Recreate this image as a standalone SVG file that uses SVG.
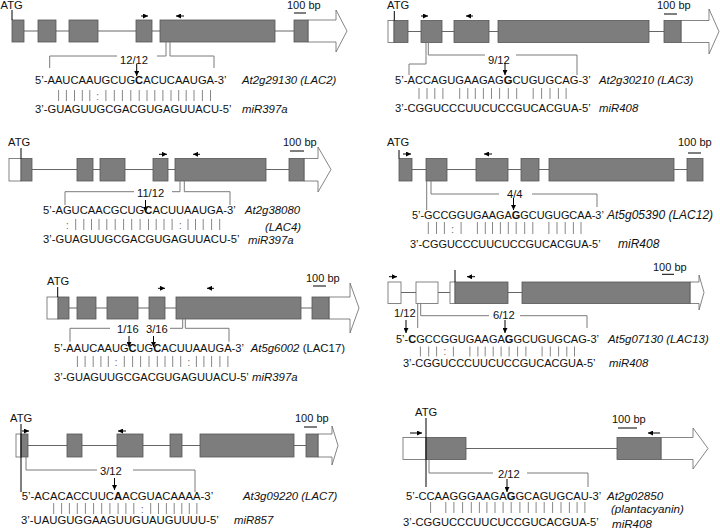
<svg xmlns="http://www.w3.org/2000/svg" width="720" height="532" viewBox="0 0 720 532">
<defs>
<marker id="ah" viewBox="0 0 10 10" refX="10" refY="5" markerWidth="5" markerHeight="5" markerUnits="userSpaceOnUse" orient="auto"><path d="M0,0 L10,5 L0,10 z" fill="#000"/></marker>
<style>
text{font-family:"Liberation Sans",Arial,sans-serif;fill:#111}
.t{font-size:11.2px}
.it{font-size:11.4px;font-style:italic}
.sb{font-size:11px}
.ex{fill:#7d7d7d;stroke:#555;stroke-width:0.8}
.wb{fill:#fff;stroke:#666;stroke-width:0.8}
.in{stroke:#666;stroke-width:1;fill:none}
.br{stroke:#7a7a7a;stroke-width:1;fill:none}
.bars{stroke:#888;stroke-width:1;fill:none}
.ar{stroke:#000;stroke-width:1;fill:none;marker-end:url(#ah)}
.bk{stroke:#000;stroke-width:1;fill:none}
.col{fill:#777}
</style>
</defs>

<!-- Panel 1 -->
<g id="p1">
<path class="in" d="M12,31H308"/>
<path class="wb" d="M308,20H336V10L347,31L336,52V42H308Z"/>
<rect class="ex" x="12" y="20" width="12" height="22"/>
<rect class="ex" x="38" y="20" width="18" height="22"/>
<rect class="ex" x="69" y="20" width="29" height="22"/>
<rect class="ex" x="136" y="20" width="16" height="22"/>
<rect class="ex" x="160" y="20" width="115" height="22"/>
<rect class="ex" x="294" y="20" width="14" height="22"/>
<text class="t" x="0.5" y="9">ATG</text>
<path class="bk" d="M12,10V20"/>
<text class="sb" x="287" y="9">100 bp</text>
<path class="bk" d="M294,13H306" stroke-width="1.5"/>
<path class="ar" d="M141,16H148"/>
<path class="ar" d="M184,16H176"/>
<path class="br" d="M49.7,68V56H117M157,56H166V42M170,42V56H214V68"/>
<text class="t" x="120" y="64">12/12</text>
<path class="ar" d="M136.7,64V76"/>
<text class="t" x="35" y="84">5’-AAUCAAUGCUG<tspan font-weight="bold">C</tspan>ACUCAAUGA-3’</text>
<path class="bars" d="M58.6,90v11M66.4,90v11M74.5,90v11M82.3,90v11M89.8,90v11M105.9,90v11M114.3,90v11M122.4,90v11M130.8,90v11M139.2,90v11M147,90v11M154.8,90v11M162.9,90v11M171,90v11M178.7,90v11M186.2,90v11M194,90v11M202.4,90v11M210.5,90v11"/>
<text class="t col" x="97.5" y="100" text-anchor="middle">:</text>
<text class="t" x="35" y="113">3’-GUAGUUGCGACGUGAGUUACU-5’</text>
<text class="it" x="242" y="84">At2g29130 (LAC2)</text>
<text class="it" x="242" y="113">miR397a</text>
</g>

<!-- Panel 2 -->
<g id="p2">
<path class="in" d="M394,31.5H709"/>
<rect class="wb" x="388" y="20.5" width="6" height="22"/>
<path class="wb" d="M681,20.5H709V9L719,31.5L709,54V42.5H681Z"/>
<rect class="ex" x="394" y="20.5" width="14" height="22"/>
<rect class="ex" x="421" y="20.5" width="21" height="22"/>
<rect class="ex" x="454" y="20.5" width="35" height="22"/>
<rect class="ex" x="498" y="20.5" width="151" height="22"/>
<rect class="ex" x="664" y="20.5" width="17" height="22"/>
<text class="t" x="387" y="9">ATG</text>
<path class="bk" d="M394.3,11V20.5"/>
<text class="sb" x="657" y="9">100 bp</text>
<path class="bk" d="M664,14H677" stroke-width="1.5"/>
<path class="ar" d="M421,16H428"/>
<path class="ar" d="M473,16H466"/>
<path class="br" d="M409,75V64H426V42.5M428.3,42.5V55H485M516,55H577V75"/>
<text class="t" x="488" y="64">9/12</text>
<path class="ar" d="M505,63V75"/>
<text class="t" x="395" y="84">5’-ACCAGUGAAGAG<tspan font-weight="bold">G</tspan>CUGUGCAG-3’</text>
<path class="bars" d="M419,88v11M427,88v11M434.8,88v11M442.9,88v11M459.7,88v11M467.8,88v11M475.3,88v11M483.4,88v11M491.5,88v11M499.6,88v11M508.3,88v11M516.7,88v11M533.2,88v11M541.6,88v11M550,88v11M558.4,88v11M566.1,88v11"/>
<text class="t" x="395" y="112">3’-CGGUCCCUUCUCCGUCACGUA-5’</text>
<text class="it" x="599" y="84">At2g30210 (LAC3)</text>
<text class="it" x="599" y="112">miR408</text>
</g>

<!-- Panel 3 -->
<g id="p3">
<path class="in" d="M21,169.5H318"/>
<rect class="wb" x="9" y="158.5" width="12" height="22.5"/>
<path class="wb" d="M304,158.5H318V147L331,169.5L318,192V181H304Z"/>
<rect class="ex" x="21" y="158.5" width="11" height="22.5"/>
<rect class="ex" x="77" y="158.5" width="16" height="22.5"/>
<rect class="ex" x="100" y="158.5" width="25" height="22.5"/>
<rect class="ex" x="153" y="158.5" width="15" height="22.5"/>
<rect class="ex" x="175" y="158.5" width="91" height="22.5"/>
<rect class="ex" x="289" y="158.5" width="15" height="22.5"/>
<text class="t" x="8" y="146">ATG</text>
<path class="bk" d="M21,148V158.5"/>
<text class="sb" x="283" y="146">100 bp</text>
<path class="bk" d="M290,151H304" stroke-width="1.5"/>
<path class="ar" d="M159,154.3H167"/>
<path class="ar" d="M200,154.3H193"/>
<path class="br" d="M65,205V191.7H134M172,191.7H180V181M184.3,181V191.7H230V205"/>
<text class="t" x="137" y="197">11/12</text>
<path class="ar" d="M145.5,200V212"/>
<text class="t" x="43" y="214">5’-AGUCAACGCUG<tspan font-weight="bold">C</tspan>ACUUAAUGA-3’</text>
<path class="bars" d="M75.7,219v11M83.8,219v11M91.5,219v11M99,219v11M106.8,219v11M115.2,219v11M123.6,219v11M131.7,219v11M140.1,219v11M148.5,219v11M156.2,219v11M164,219v11M172.1,219v11M188,219v11M195.5,219v11M203.2,219v11M211.6,219v11M219.7,219v11"/>
<text class="t col" x="67.3" y="229" text-anchor="middle">:</text>
<text class="t col" x="180.2" y="229" text-anchor="middle">:</text>
<text class="t" x="43" y="243">3’-GUAGUUGCGACGUGAGUUACU-5’</text>
<text class="it" x="245" y="214">At2g38080</text>
<text class="it" x="265" y="231">(LAC4)</text>
<text class="it" x="248" y="244">miR397a</text>
</g>

<!-- Panel 4 -->
<g id="p4">
<path class="in" d="M399,169.5H703"/>
<rect class="ex" x="399" y="158.5" width="13" height="22.5"/>
<rect class="ex" x="426" y="158.5" width="21" height="22.5"/>
<rect class="ex" x="476" y="158.5" width="32" height="22.5"/>
<rect class="ex" x="521" y="158.5" width="18" height="22.5"/>
<rect class="ex" x="549" y="158.5" width="125" height="22.5"/>
<rect class="ex" x="687" y="158.5" width="16" height="22.5"/>
<text class="t" x="387" y="146">ATG</text>
<path class="bk" d="M399,150V158.5"/>
<path class="ar" d="M403,154H411"/>
<text class="sb" x="678" y="146">100 bp</text>
<path class="bk" d="M688,153H701" stroke-width="1.5"/>
<path class="ar" d="M492,154H484"/>
<path class="br" d="M426.7,181V210M431,181V194H499M532,194H597V207"/>
<text class="t" x="507" y="198">4/4</text>
<path class="ar" d="M513.5,198V210"/>
<text class="t" x="412" y="219" style="font-size:10.9px">5’-GCCGGUGAAGA<tspan font-weight="bold">G</tspan>GCUGUGCAA-3’</text>
<path class="bars" d="M428.3,222v12M436.5,222v12M444.4,222v12M461.1,222v12M477.4,222v12M485.3,222v12M492.5,222v12M500.4,222v12M508.3,222v12M516.2,222v12M524.7,222v12M532.8,222v12M548.9,222v12M557.0,222v12M565.2,222v12M573.4,222v12M581,222v12"/>
<text class="t col" x="452.6" y="233" text-anchor="middle">:</text>
<text class="t" x="410" y="248" style="font-size:10.9px">3’-CGGUCCCUUCUCCGUCACGUA-5’</text>
<text class="it" x="607" y="219" style="font-size:12px">At5g05390 (LAC12)</text>
<text class="it" x="618" y="248" style="font-size:12px">miR408</text>
</g>

<!-- Panel 5 -->
<g id="p5">
<path class="in" d="M58,308H350"/>
<rect class="wb" x="47" y="297" width="11" height="22"/>
<path class="wb" d="M329,297H350V283L359,308L350,333V319H329Z"/>
<rect class="ex" x="58" y="297" width="11" height="22"/>
<rect class="ex" x="77" y="297" width="19" height="22"/>
<rect class="ex" x="107" y="297" width="31" height="22"/>
<rect class="ex" x="149" y="297" width="16" height="22"/>
<rect class="ex" x="176" y="297" width="125" height="22"/>
<rect class="ex" x="312" y="297" width="17" height="22"/>
<text class="t" x="47" y="285">ATG</text>
<path class="bk" d="M57.7,287V297"/>
<text class="sb" x="306" y="282">100 bp</text>
<path class="bk" d="M313,286H326" stroke-width="1.5"/>
<path class="ar" d="M158,288.3H165"/>
<path class="ar" d="M214,288.3H207"/>
<path class="br" d="M70,341.7V328.3H110M170,328.3H182.7V319M185.3,319V328.3H229V341.7"/>
<text class="t" x="117" y="333.3">1/16</text>
<text class="t" x="146" y="333.3">3/16</text>
<path class="ar" d="M129,336V347"/>
<path class="ar" d="M153.5,336V347"/>
<text class="t" x="54" y="352" style="font-size:11.1px">5’-AAUCAAUG<tspan font-weight="bold">C</tspan>UG<tspan font-weight="bold">C</tspan>ACUUAAUGA-3’</text>
<path class="bars" d="M77.4,356v11M85.1,356v11M93.2,356v11M100.9,356v11M108.3,356v11M124.3,356v11M132.6,356v11M140.6,356v11M149,356v11M157.3,356v11M165,356v11M172.7,356v11M180.7,356v11M196.4,356v11M203.9,356v11M211.6,356v11M219.9,356v11M227.9,356v11"/>
<text class="t col" x="116" y="366" text-anchor="middle">:</text>
<text class="t col" x="188.7" y="366" text-anchor="middle">:</text>
<text class="t" x="54" y="381" style="font-size:11.1px">3’-GUAGUUGCGACGUGAGUUACU-5’</text>
<text class="t" x="250.7" y="352" style="font-size:11.4px"><tspan font-style="italic">At5g6002</tspan> (LAC17)</text>
<text class="it" x="252" y="381">miR397a</text>
</g>

<!-- Panel 6 -->
<g id="p6">
<path class="in" d="M388,292.5H699"/>
<rect class="wb" x="388" y="282" width="13" height="21.5"/>
<rect class="wb" x="416" y="282" width="22" height="21.5"/>
<rect class="wb" x="450" y="282" width="5" height="21.5"/>
<path class="wb" d="M690,282H699V275L704,292.5L699,310V303.5H690Z"/>
<rect class="ex" x="455" y="282" width="53" height="21.5"/>
<rect class="ex" x="522" y="282" width="168" height="21.5"/>
<path class="bk" d="M455,270V282"/>
<text class="sb" x="653" y="271">100 bp</text>
<path class="bk" d="M662,274.3H674" stroke-width="1.5"/>
<path class="ar" d="M389,276.7H397"/>
<path class="ar" d="M475,276.7H467"/>
<path class="br" d="M417.7,303.5V328M420.7,303.5V315.7H489M520,315.7H587V328"/>
<text class="t" x="394" y="317">1/12</text>
<text class="t" x="493" y="319">6/12</text>
<path class="ar" d="M406,320V333"/>
<path class="ar" d="M505,320V333"/>
<text class="t" x="396" y="343" style="font-size:11px">5’-<tspan font-weight="bold">C</tspan>GCCGGUGAAGA<tspan font-weight="bold">G</tspan>GCUGUGCAG-3’</text>
<path class="bars" d="M420.4,346.5v10M428.7,346.5v10M436.6,346.5v10M453.4,346.5v10M469.9,346.5v10M477.9,346.5v10M485.2,346.5v10M493.2,346.5v10M501.1,346.5v10M509.1,346.5v10M517.6,346.5v10M525.9,346.5v10M542.1,346.5v10M550.3,346.5v10M558.6,346.5v10M566.8,346.5v10M574.5,346.5v10"/>
<text class="t col" x="444.9" y="355" text-anchor="middle">:</text>
<text class="t" x="403" y="367" style="font-size:11px">3’-CGGUCCCUUCUCCGUCACGUA-5’</text>
<text class="it" x="608" y="343">At5g07130 (LAC13)</text>
<text class="it" x="609" y="367">miR408</text>
</g>

<!-- Panel 7 -->
<g id="p7">
<path class="in" d="M21,445.5H332"/>
<rect class="wb" x="16" y="434" width="5" height="23"/>
<path class="wb" d="M318,434H332V426L338,445.5L332,465V457H318Z"/>
<rect class="ex" x="21" y="434" width="7" height="23"/>
<rect class="ex" x="67" y="434" width="15" height="23"/>
<rect class="ex" x="117" y="434" width="26" height="23"/>
<rect class="ex" x="170" y="434" width="12" height="23"/>
<rect class="ex" x="200" y="434" width="94" height="23"/>
<rect class="ex" x="306" y="434" width="12" height="23"/>
<text class="t" x="10" y="422">ATG</text>
<path class="bk" d="M21,424V492"/>
<path class="ar" d="M22,431H29"/>
<text class="sb" x="295" y="422">100 bp</text>
<path class="bk" d="M304,427H317" stroke-width="1.5"/>
<path class="ar" d="M126,431H118"/>
<path class="br" d="M26,457V470H97M133,470H195V492"/>
<text class="t" x="100" y="475">3/12</text>
<path class="ar" d="M114.5,478V490"/>
<text class="t" x="21.7" y="500" style="font-size:11.3px">5’-ACACACCUUC<tspan font-weight="bold">A</tspan>ACGUACAAAA-3’</text>
<path class="bars" d="M53.7,503v11M61.6,503v11M69.4,503v11M77.3,503v11M85.4,503v11M93.6,503v11M101.7,503v11M109.9,503v11M118.1,503v11M125.9,503v11M133.8,503v11M150.7,503v11M158.5,503v11M166.4,503v11M174.2,503v11M181.8,503v11M189.3,503v11M196.9,503v11"/>
<text class="t col" x="142.2" y="513" text-anchor="middle">:</text>
<text class="t" x="21" y="524" style="font-size:11.3px">3’-UAUGUGGAAGUUGUAUGUUUU-5’</text>
<text class="it" x="243" y="500">At3g09220 (LAC7)</text>
<text class="it" x="234" y="524">miR857</text>
</g>

<!-- Panel 8 -->
<g id="p8">
<path class="in" d="M403,448.5H693"/>
<rect class="wb" x="403" y="437.5" width="23" height="22"/>
<path class="wb" d="M661,437.5H693V428L708,448.5L693,469V459.5H661Z"/>
<rect class="ex" x="426" y="437.5" width="40" height="22"/>
<rect class="ex" x="617" y="437.5" width="44" height="22"/>
<text class="t" x="415" y="416">ATG</text>
<path class="bk" d="M426,418V487"/>
<path class="ar" d="M410,433H422"/>
<text class="sb" x="612" y="423">100 bp</text>
<path class="bk" d="M618,428H637" stroke-width="1.5"/>
<path class="ar" d="M660,433H648"/>
<path class="br" d="M429,459.5V473H493M527,473H588V487"/>
<text class="t" x="498" y="478">2/12</text>
<path class="ar" d="M507,479V492"/>
<text class="t" x="406" y="500">5’-CCAAGGGAAGA<tspan font-weight="bold">G</tspan>GCAGUGCAU-3’</text>
<path class="bars" d="M430.6,502v11M445.8,502v11M453.9,502v11M462.6,502v11M471.3,502v11M479.4,502v11M486.9,502v11M495,502v11M503.1,502v11M511.2,502v11M519.9,502v11M528.3,502v11M536.1,502v11M544.2,502v11M552.6,502v11M561,502v11M569.4,502v11M577.1,502v11M584.9,502v11"/>
<text class="t" x="403" y="526">3’-CGGUCCCUUCUCCGUCACGUA-5’</text>
<text class="it" x="607" y="499.5" style="font-size:11.6px">At2g02850</text>
<text class="it" x="611" y="513" style="font-size:11.6px">(plantacyanin)</text>
<text class="it" x="612" y="527.5" style="font-size:11.6px">miR408</text>
</g>
</svg>
